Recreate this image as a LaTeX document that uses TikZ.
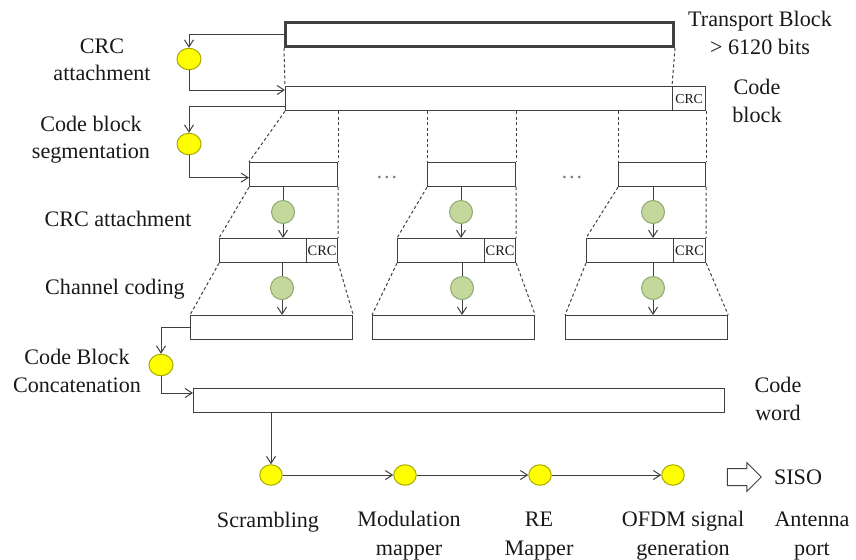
\documentclass[tikz,border=0pt]{standalone}
\usepackage{fontspec}
\setmainfont{Liberation Serif}
\usepackage{xcolor}
\definecolor{linegray}{HTML}{404040}
\definecolor{dotyellow}{HTML}{FFFF00}
\definecolor{dotyellowedge}{HTML}{A8A800}
\definecolor{dotgreen}{HTML}{C4D89C}
\definecolor{dotgreenedge}{HTML}{8EA872}
\usepackage{tikz}
\usetikzlibrary{arrows.meta, shapes.geometric, shapes.arrows, calc}

\begin{document}
\begin{tikzpicture}[x=0.2mm, y=-0.2mm,
  font=\fontsize{12.6}{15.5}\selectfont, text=black!90,
  blk/.style 2 args={draw=linegray, line width=0.24mm, inner sep=0pt, anchor=north west,
    minimum width=#1*0.2mm, minimum height=#2*0.2mm},
  crcfont/.style={font=\fontsize{8.2}{9}\selectfont},
  ydot/.style={ellipse, draw=dotyellowedge, fill=dotyellow, line width=0.2mm, inner sep=0pt,
    minimum width=4.8mm, minimum height=4.3mm},
  gdot/.style={circle, draw=dotgreenedge, fill=dotgreen, line width=0.2mm, inner sep=0pt,
    minimum size=4.6mm},
  conn/.style={draw=linegray, line width=0.2mm},
  arr/.style={conn, -{Straight Barb[length=1.4mm, width=1.8mm]}},
  guide/.style={draw=linegray, line width=0.2mm, dash pattern=on 0.6mm off 0.5mm},
  lbl/.style={align=center, inner sep=0pt},
  steplbl/.style={lbl, font=\fontsize{12.6}{16.5}\selectfont}]
  \useasboundingbox (0,0) rectangle (856,559);

  % blocks
  \node[blk={388}{24}, line width=0.6mm] (tb) at (284,21) {};
  \node[blk={387}{24}] (cb) at (285,86) {};
  \node[blk={33}{24}, font=\fontsize{7.8}{9}\selectfont] (cbcrc) at (672,86) {CRC};
  \node[blk={88}{24}] (seg1) at (249,162) {};
  \node[blk={88}{24}] (seg2) at (427,162) {};
  \node[blk={87}{24}] (seg3) at (618,162) {};
  \node[blk={87}{24}] (crc1) at (219,238) {};
  \node[blk={31}{24}, crcfont] (crc1c) at (306,238) {CRC};
  \node[blk={87}{24}] (crc2) at (397,238) {};
  \node[blk={31}{24}, crcfont] (crc2c) at (484,238) {CRC};
  \node[blk={87}{24}] (crc3) at (586,238) {};
  \node[blk={32}{24}, crcfont] (crc3c) at (673,238) {CRC};
  \node[blk={162}{24}] (cod1) at (190,315) {};
  \node[blk={162}{24}] (cod2) at (372,315) {};
  \node[blk={162}{24}] (cod3) at (565,315) {};
  \node[blk={531}{24}] (cw) at (193,388) {};

  % dashed guides
  \draw[guide] (tb.south west) -- (cb.north west);
  \draw[guide] (tb.south east) -- (cbcrc.north west);
  \draw[guide] (cb.south west) -- (seg1.north west);
  \draw[guide] (seg1.north east |- cb.south) -- (seg1.north east);
  \draw[guide] (seg2.north west |- cb.south) -- (seg2.north west);
  \draw[guide] (seg2.north east |- cb.south) -- (seg2.north east);
  \draw[guide] (seg3.north west |- cb.south) -- (seg3.north west);
  \draw[guide] (cbcrc.south east) -- (seg3.north east);
  \draw[guide] (seg1.south west) -- (crc1.north west);
  \draw[guide] (seg1.south east) -- (crc1c.north east);
  \draw[guide] (seg2.south west) -- (crc2.north west);
  \draw[guide] (seg2.south east) -- (crc2c.north east);
  \draw[guide] (seg3.south west) -- (crc3.north west);
  \draw[guide] (seg3.south east) -- (crc3c.north east);
  \draw[guide] (crc1.south west) -- (cod1.north west);
  \draw[guide] (crc1c.south east) -- (cod1.north east);
  \draw[guide] (crc2.south west) -- (cod2.north west);
  \draw[guide] (crc2c.south east) -- (cod2.north east);
  \draw[guide] (crc3.south west) -- (cod3.north west);
  \draw[guide] (crc3c.south east) -- (cod3.north east);
  \node[gray] (dots1) at (387,177) {\dots};
  \node[gray] (dots2) at (572,177) {\dots};

  % processing steps
  \node[ydot] (y1) at (189,59) {};
  \node[ydot] (y2) at (189,144) {};
  \node[ydot] (y3) at (161,365) {};
  \node[gdot] (g1a) at (283,212) {};
  \node[gdot] (g2a) at (461,212) {};
  \node[gdot] (g3a) at (653,212) {};
  \node[gdot] (g1b) at (282,288) {};
  \node[gdot] (g2b) at (462,288) {};
  \node[gdot] (g3b) at (653,288) {};

  \draw[arr] (tb.west) -| (y1.north);
  \draw[arr] (y1.south) |- ([yshift=-0.8mm]cb.north west);
  \draw[arr] ([yshift=1mm]cb.south west) -| (y2.north);
  \draw[arr] (y2.south) |- ([yshift=-0.6mm]seg1.west);
  \draw[conn] (g1a |- seg1.south) -- (g1a.north);
  \draw[conn] (g2a |- seg2.south) -- (g2a.north);
  \draw[conn] (g3a |- seg3.south) -- (g3a.north);
  \draw[arr] (g1a.south) -- (g1a |- crc1.north);
  \draw[arr] (g2a.south) -- (g2a |- crc2.north);
  \draw[arr] (g3a.south) -- (g3a |- crc3.north);
  \draw[conn] (g1b |- crc1.south) -- (g1b.north);
  \draw[conn] (g2b |- crc2.south) -- (g2b.north);
  \draw[conn] (g3b |- crc3.south) -- (g3b.north);
  \draw[arr] (g1b.south) -- (g1b |- cod1.north);
  \draw[arr] (g2b.south) -- (g2b |- cod2.north);
  \draw[arr] (g3b.south) -- (g3b |- cod3.north);
  \draw[arr] (cod1.west) -| (y3.north);
  \draw[arr] (y3.south) |- ([yshift=-1mm]cw.north west);

  % transmit chain
  \node[ydot, minimum width=4.5mm, minimum height=4.1mm] (b1) at (271,475) {};
  \node[ydot, minimum width=4.5mm, minimum height=4.1mm] (b2) at (405,475) {};
  \node[ydot, minimum width=4.5mm, minimum height=4.1mm] (b3) at (540,475) {};
  \node[ydot, minimum width=4.5mm, minimum height=4.1mm] (b4) at (673,475) {};
  \draw[arr] (b1 |- cw.south) -- (b1.north);
  \draw[arr] (b1.east) -- (b2.west);
  \draw[arr] (b2.east) -- (b3.west);
  \draw[arr] (b3.east) -- (b4.west);
  \node[single arrow, draw=linegray, line width=0.2mm, inner xsep=0pt, inner ysep=1.6mm,
    minimum height=6.8mm, single arrow head extend=1.2mm] (out) at (740,477) {};
  \node[lbl] (siso) at (798,477) {SISO};

  % labels
  \node[lbl] (lcrc) at (102,60) {CRC\\attachment};
  \node[lbl] (lseg) at (91,140) {Code block\\segmentation};
  \node[lbl] (lcrcb) at (118,219) {CRC attachment};
  \node[lbl] (lcod) at (115,289) {Channel coding};
  \node[lbl] (lcat) at (77,371) {Code Block\\Concatenation};
  \node[lbl] (ltb) at (760,33) {Transport Block\\> 6120 bits};
  \node[lbl] (lcb) at (757,101) {Code\\block};
  \node[lbl] (lcw) at (778,399) {Code\\word};
  \node[steplbl] (lscr) at (268,522) {Scrambling};
  \node[steplbl] (lmod) at (409,536) {Modulation\\mapper};
  \node[steplbl] (lre) at (539,536) {RE\\Mapper};
  \node[steplbl] (lofdm) at (683,536) {OFDM signal\\generation};
  \node[steplbl] (lant) at (812,536) {Antenna\\port};
\end{tikzpicture}
\end{document}
